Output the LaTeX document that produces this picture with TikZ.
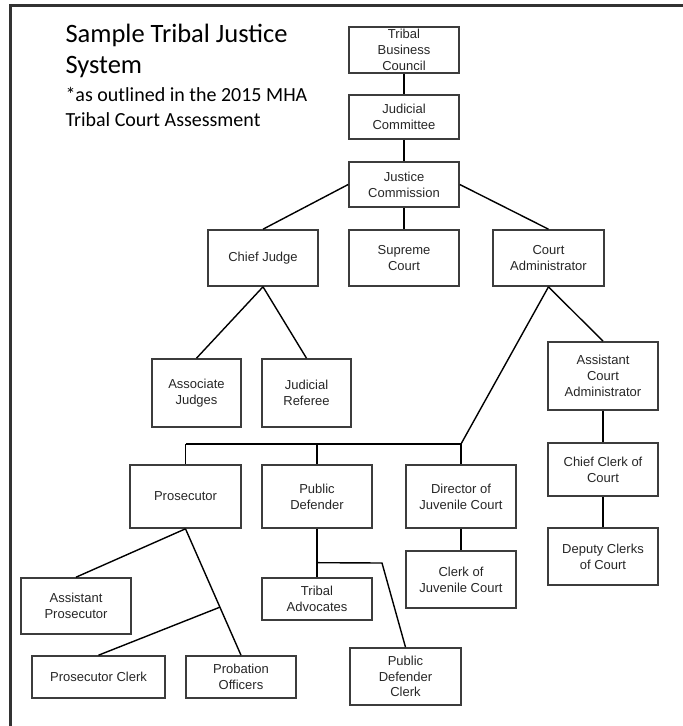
\documentclass[tikz,border=0pt]{standalone}
\usepackage{fontspec}
\newfontfamily\titlefont{Carlito}
\newfontfamily\boxfont{Liberation Sans}
\usepackage{tikz}
\usetikzlibrary{calc}
\definecolor{boxline}{RGB}{60,60,60}
\definecolor{frameline}{RGB}{50,50,50}

\begin{document}
\begin{tikzpicture}[
    x=1pt, y=-1pt,
    office/.style={draw=boxline, line width=1.6pt, align=center, inner sep=0pt,
        minimum width=110pt, font=\boxfont\fontsize{13}{15.7}\selectfont, text=black!85},
    tie/.style={line width=1.4pt, black},
    heading/.style={anchor=base west, font=\titlefont\fontsize{26.5}{31}\selectfont},
    subheading/.style={anchor=base west, font=\titlefont\fontsize{20}{24}\selectfont},
]
    \useasboundingbox (0,0) rectangle (683,726);

    % Frame
    \draw[frameline, line width=2.5pt] (683,5.3) -- (10.3,5.3) -- (10.3,726);

    % Title
    \node[heading] (title1) at (62,42) {Sample Tribal Justice};
    \node[heading] (title2) at (62,73.5) {System};
    \node[subheading] (note1) at (62,101) {*as outlined in the 2015 MHA};
    \node[subheading] (note2) at (62,126) {Tribal Court Assessment};

    % Top of the chain
    \node[office, minimum height=46pt] (council) at (404,50) {Tribal\\Business\\Council};
    \node[office, minimum height=44pt] (committee) at (404,117) {Judicial\\Committee};
    \node[office, minimum height=45pt] (commission) at (404,184.5) {Justice\\Commission};

    % Second row
    \node[office, minimum height=56pt] (chief) at (263,258) {Chief Judge};
    \node[office, minimum height=56pt] (supreme) at (404,258) {Supreme\\Court};
    \node[office, minimum height=56pt, minimum width=111pt] (admin) at (548.5,258) {Court\\Administrator};

    % Judges
    \node[office, minimum height=68pt, minimum width=89pt] (associate) at (196.5,393) {Associate\\Judges};
    \node[office, minimum height=68pt, minimum width=89pt] (referee) at (306.5,393) {Judicial\\Referee};

    % Court administration
    \node[office, minimum height=68pt] (asstadmin) at (603,376) {Assistant\\Court\\Administrator};
    \node[office, minimum height=53pt] (chiefclerk) at (603,469.5) {Chief Clerk of\\Court};
    \node[office, minimum height=57pt] (deputy) at (603,556.5) {Deputy Clerks\\of Court};

    % Third row
    \node[office, minimum height=63pt, minimum width=111pt] (prosecutor) at (185.5,496.5) {Prosecutor};
    \node[office, minimum height=63pt] (defender) at (317,496.5) {Public\\Defender};
    \node[office, minimum height=63pt] (juvenile) at (461,496.5) {Director of\\Juvenile Court};
    \node[office, minimum height=57pt] (juvclerk) at (461,579.5) {Clerk of\\Juvenile Court};

    % Prosecutor's office
    \node[office, minimum height=56pt] (asstpros) at (76,606) {Assistant\\Prosecutor};
    \node[office, minimum height=42pt, minimum width=133pt] (prosclerk) at (98.5,677) {Prosecutor Clerk};
    \node[office, minimum height=42pt] (probation) at (241,677) {Probation\\Officers};

    % Defender's office
    \node[office, minimum height=42pt] (advocates) at (317,599) {Tribal\\Advocates};
    \node[office, minimum height=57pt, minimum width=111pt] (defclerk) at (405.5,676.5) {Public\\Defender\\Clerk};

    % Bus and branch points
    \coordinate (busL) at (prosecutor.north |- 0,444);
    \coordinate (busR) at (juvenile.north |- 0,444);
    \coordinate (prosfork) at ($(prosecutor.south)!0.62!(probation.north)$);
    \coordinate (deffork) at ($(defender.south)!0.7!(advocates.north)$);
    \coordinate (defbend) at (382,563);

    % Links
    \draw[tie] (council) -- (committee);
    \draw[tie] (committee) -- (commission);
    \draw[tie] (commission) -- (supreme);
    \draw[tie] (commission.west) -- (chief.north);
    \draw[tie] (commission.east) -- (admin.north);
    \draw[tie] (chief.south) -- (associate.north);
    \draw[tie] (chief.south) -- (referee.north);
    \draw[tie] (admin.south) -- (asstadmin.north);
    \draw[tie] (admin.south) -- (busR);
    \draw[tie] (busL) -- (busR);
    \draw[tie] (busL) -- (prosecutor.north);
    \draw[tie] (defender.north |- busL) -- (defender.north);
    \draw[tie] (busR) -- (juvenile.north);
    \draw[tie] (juvenile) -- (juvclerk);
    \draw[tie] (asstadmin) -- (chiefclerk);
    \draw[tie] (chiefclerk) -- (deputy);
    \draw[tie] (prosecutor.south) -- (asstpros.north);
    \draw[tie] (prosecutor.south) -- (probation.north);
    \draw[tie] (prosfork) -- (prosclerk.north);
    \draw[tie] (defender) -- (advocates);
    \draw[tie] (deffork) -- (defbend) -- (defclerk.north);

\end{tikzpicture}
\end{document}
